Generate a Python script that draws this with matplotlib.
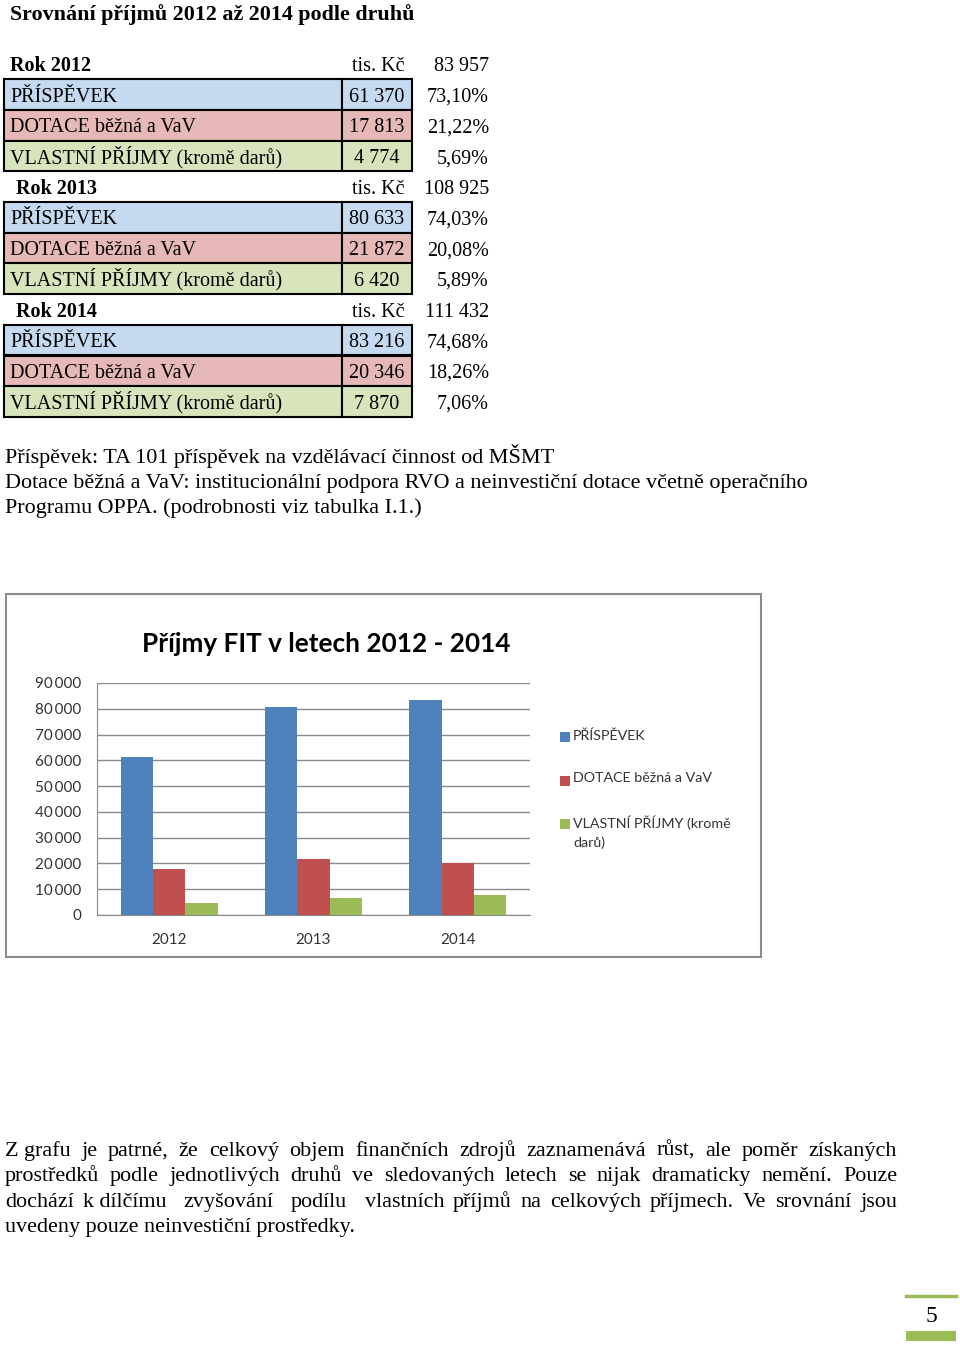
import re
import matplotlib
matplotlib.use('Agg')
import matplotlib.pyplot as plt
from matplotlib.patches import Rectangle

# data
years = ['2012', '2013', '2014']
categories = ['PŘÍSPĚVEK', 'DOTACE běžná a VaV', 'VLASTNÍ PŘÍJMY (kromě darů)']
prispevek = [61370, 80633, 83216]
dotace = [17813, 21872, 20346]
vlastni = [4774, 6420, 7870]
series = [prispevek, dotace, vlastni]
legend_labels = ['PŘÍSPĚVEK', 'DOTACE běžná a VaV', 'VLASTNÍ PŘÍJMY (kromě\ndarů)']
yticks = [0, 10000, 20000, 30000, 40000, 50000, 60000, 70000, 80000, 90000]

title = 'Srovnání příjmů 2012 až 2014 podle druhů'
chart_title = 'Příjmy FIT v letech 2012 - 2014'
notes = ['Příspěvek: TA 101 příspěvek na vzdělávací činnost od MŠMT',
         'Dotace běžná a VaV: institucionální podpora RVO a neinvestiční dotace včetně operačního',
         'Programu OPPA. (podrobnosti viz tabulka I.1.)']
paragraph = ['Z\u00a0grafu je patrné, že celkový objem finančních zdrojů zaznamenává růst, ale poměr získaných',
             'prostředků podle jednotlivých druhů ve sledovaných letech se nijak dramaticky nemění. Pouze',
             'dochází k\u00a0dílčímu  zvyšování  podílu  vlastních příjmů na celkových příjmech. Ve srovnání jsou',
             'uvedeny pouze neinvestiční prostředky.']

cell_colors = ['#c5d9f1', '#e6b8b7', '#d8e4bc']
bar_colors = ['#4f81bd', '#c0504d', '#9bbb59']
SERIF = 'Liberation Serif'
SANS = 'Lato'


def fmt(v, sep=' '):
    return f'{v:,}'.replace(',', sep)


fig = plt.figure(figsize=(9.6, 13.47), dpi=100)
bg = fig.add_axes([0, 0, 1, 1])
bg.set_xlim(0, 960)
bg.set_ylim(1347, 0)
bg.axis('off')

bg.text(10, 20, title, fontsize=15.8, fontweight='bold', family=SERIF)

# table
row_h = 30.7
top0 = 48.5
k = 0
for i, yr in enumerate(years):
    total = sum(s[i] for s in series)
    y0 = top0 + k * row_h
    bg.text(10 if i == 0 else 16, y0 + 22.5, 'Rok ' + yr, fontsize=14.5, fontweight='bold', family=SERIF)
    bg.text(405, y0 + 22.5, 'tis. Kč', fontsize=14.5, family=SERIF, ha='right')
    bg.text(489, y0 + 22.5, fmt(total), fontsize=14.5, family=SERIF, ha='right')
    k += 1
    for j, cat in enumerate(categories):
        y0 = top0 + k * row_h
        v = series[j][i]
        bg.add_patch(Rectangle((4, y0), 338, row_h, facecolor=cell_colors[j], edgecolor='black', lw=1.5))
        bg.add_patch(Rectangle((342, y0), 70, row_h, facecolor=cell_colors[j], edgecolor='black', lw=1.5))
        bg.text(10, y0 + 22.5, cat, fontsize=14.5, family=SERIF)
        bg.text(377, y0 + 22.5, fmt(v), fontsize=14.5, family=SERIF, ha='center')
        pct = f'{v / total * 100:.2f}%'.replace('.', ',')
        bg.text(489, y0 + 22.5, pct, fontsize=14.5, family=SERIF, ha='right')
        k += 1

for n, line in enumerate(notes):
    bg.text(5, 463 + n * 25, line, fontsize=15.9, family=SERIF)

# chart frame
bg.add_patch(Rectangle((6, 594), 755, 363, facecolor='white', edgecolor='#8c8c8c', lw=1.5))
bg.text(326, 652, chart_title, fontsize=18.8, fontweight='bold', family=SANS, ha='center')

ax = fig.add_axes([97 / 960, (1347 - 915) / 1347, 433 / 960, (915 - 683) / 1347])
ax.patch.set_visible(False)
x = range(len(years))
w = 0.224
for j, s in enumerate(series):
    ax.bar([xi + (j - 1) * w for xi in x], s, width=w, color=bar_colors[j], zorder=3)
ax.set_xlim(-0.5, 2.5)
ax.set_ylim(0, 90000)
ax.set_yticks(yticks)
ax.set_yticklabels([fmt(t, '\u2009') for t in yticks], family=SANS, fontsize=11, color='#333333')
ax.set_xticks(list(x))
ax.set_xticklabels(years, family=SANS, fontsize=11, color='#333333')
ax.tick_params(length=0, pad=11)
ax.tick_params(axis='x', pad=13)
ax.grid(axis='y', color='#8a8a8a', lw=1, zorder=0)
for side in ['top', 'right']:
    ax.spines[side].set_visible(False)
for side in ['left', 'bottom']:
    ax.spines[side].set_color('#8a8a8a')

# legend
for j, lab in enumerate(legend_labels):
    ly = 737 + j * 43.5
    bg.add_patch(Rectangle((560, ly - 5), 10, 10, facecolor=bar_colors[j], edgecolor='none'))
    bg.text(573, ly - 8, lab, fontsize=10.3, family=SANS, color='#333333', va='top', linespacing=1.55)

# justified paragraph
renderer = fig.canvas.get_renderer()
x_left, x_right = 5, 897
for n, line in enumerate(paragraph):
    yb = 1156 + n * 25.3
    if n == len(paragraph) - 1:
        bg.text(x_left, yb, line, fontsize=15.9, family=SERIF)
        continue
    parts = re.split(r'( +)', line)
    words = parts[0::2]
    gaps = [len(g) for g in parts[1::2]]
    texts = [bg.text(0, yb, wd, fontsize=15.9, family=SERIF) for wd in words]
    widths = [t.get_window_extent(renderer).width for t in texts]
    gap_unit = (x_right - x_left - sum(widths)) / sum(gaps)
    cx = x_left
    for t, wdt, g in zip(texts, widths, gaps + [0]):
        t.set_x(cx)
        cx += wdt + g * gap_unit

# page number
bg.plot([906, 956], [1296, 1296], color='#9bbb59', lw=2.5)
bg.text(931, 1322, '5', fontsize=17, family=SERIF, ha='center')
bg.add_patch(Rectangle((906, 1331), 50, 10, facecolor='#9bbb59', edgecolor='none'))

fig.savefig('out.png', dpi=100)
